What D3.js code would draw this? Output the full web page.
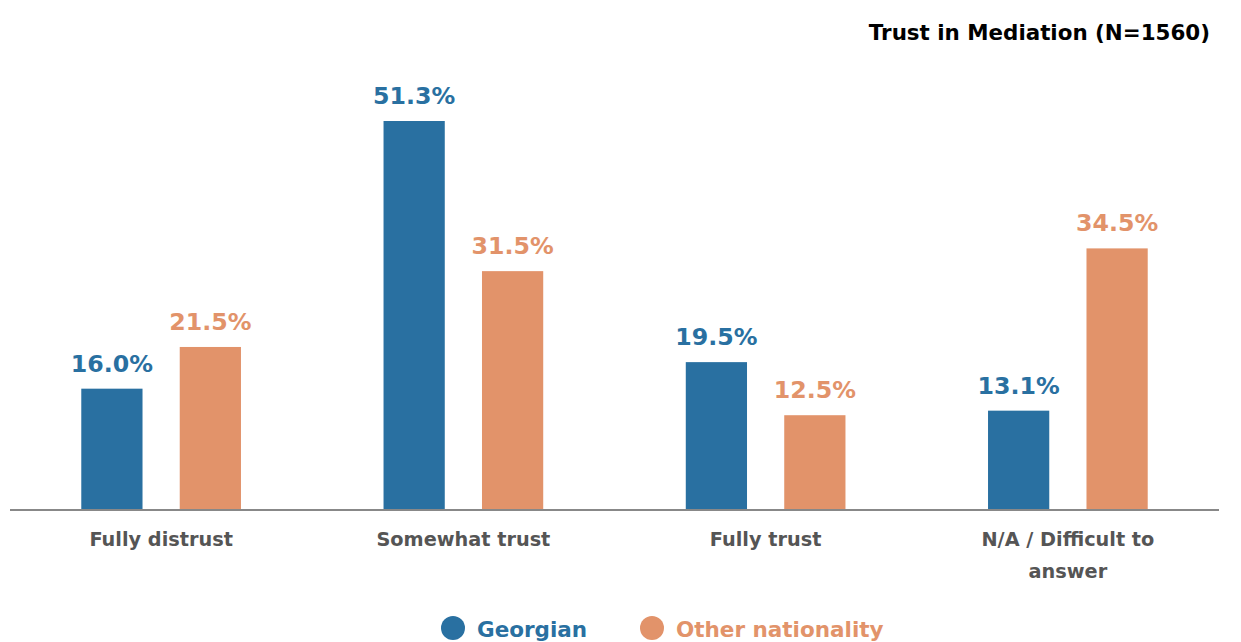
<!DOCTYPE html>
<html>
<head>
<meta charset="utf-8">
<script src="https://cdn.jsdelivr.net/npm/d3@7/dist/d3.min.js"></script>
<style>
  html, body { margin: 0; padding: 0; background: #fff; }
  svg { display: block; font-family: "DejaVu Sans", sans-serif; font-weight: bold; }
</style>
</head>
<body>
<svg id="chart" width="1241" height="642"></svg>
<script>
// Survey answers: trust in mediation by nationality (percent)
const categories = ["Fully distrust", "Somewhat trust", "Fully trust", "N/A / Difficult to answer"];
const series = ["Georgian", "Other nationality"];
const georgian = [16.0, 51.3, 19.5, 13.1];
const otherNationality = [21.5, 31.5, 12.5, 34.5];
const seriesValues = [georgian, otherNationality];
const colors = ["#2970a1", "#e2936a"];
const titleText = "Trust in Mediation (N=1560)";

const svg = d3.select("#chart");
const axisLeft = 10, axisRight = 1219, baseline = 510;

const x0 = d3.scaleBand().domain(categories).range([axisLeft, axisRight]).padding(0);
const x1 = d3.scaleBand().domain(series).range([0, x0.bandwidth()])
  .paddingInner(0.378).paddingOuter(0.724);
// 51.3% reaches y = 121
const y = d3.scaleLinear().domain([0, 51.3]).range([baseline, 121]);

// Title
svg.append("text")
  .attr("x", 1210).attr("y", 40)
  .attr("text-anchor", "end")
  .attr("font-size", 21.4)
  .attr("fill", "#000")
  .text(titleText);

const rows = categories.map((c, i) => ({
  cat: c,
  vals: series.map((s, j) => ({ s, j, v: seriesValues[j][i] }))
}));

const groups = svg.append("g").selectAll("g").data(rows).join("g")
  .attr("transform", d => `translate(${x0(d.cat)},0)`);

groups.selectAll("rect").data(d => d.vals).join("rect")
  .attr("x", d => x1(d.s))
  .attr("width", x1.bandwidth())
  .attr("y", d => y(d.v))
  .attr("height", d => baseline - y(d.v))
  .attr("fill", d => colors[d.j]);

groups.selectAll("text.val").data(d => d.vals).join("text")
  .attr("class", "val")
  .attr("x", d => x1(d.s) + x1.bandwidth() / 2)
  .attr("y", d => y(d.v) - 17)
  .attr("text-anchor", "middle")
  .attr("font-size", 23.7)
  .attr("fill", d => colors[d.j])
  .text(d => d.v.toFixed(1) + "%");

// Category axis
const xAxis = d3.axisBottom(x0).tickSize(0).tickPadding(0);
const ax = svg.append("g").attr("transform", `translate(0,${baseline})`).call(xAxis);
ax.select(".domain").attr("stroke", "#888").attr("stroke-width", 2)
  .attr("d", `M${axisLeft},0H${axisRight}`);
ax.selectAll(".tick text").remove();
ax.selectAll(".tick").each(function(d) {
  const t = d3.select(this).append("text")
    .attr("text-anchor", "middle")
    .attr("font-family", "DejaVu Sans, sans-serif")
    .attr("font-weight", "bold")
    .attr("font-size", 19.3)
    .attr("fill", "#555");
  const lines = d === "N/A / Difficult to answer" ? ["N/A / Difficult to", "answer"] : [d];
  lines.forEach((ln, k) => {
    t.append("tspan").attr("x", 0).attr("y", 36 + k * 32).text(ln);
  });
});

// Legend
const legendItems = [
  { name: series[0], cx: 453, tx: 477 },
  { name: series[1], cx: 652, tx: 676 }
];
const lg = svg.append("g");
legendItems.forEach((it, j) => {
  lg.append("circle").attr("cx", it.cx).attr("cy", 628).attr("r", 12).attr("fill", colors[j]);
  lg.append("text").attr("x", it.tx).attr("y", 636.5)
    .attr("font-size", 21.5).attr("fill", colors[j]).text(it.name);
});
</script>
</body>
</html>
